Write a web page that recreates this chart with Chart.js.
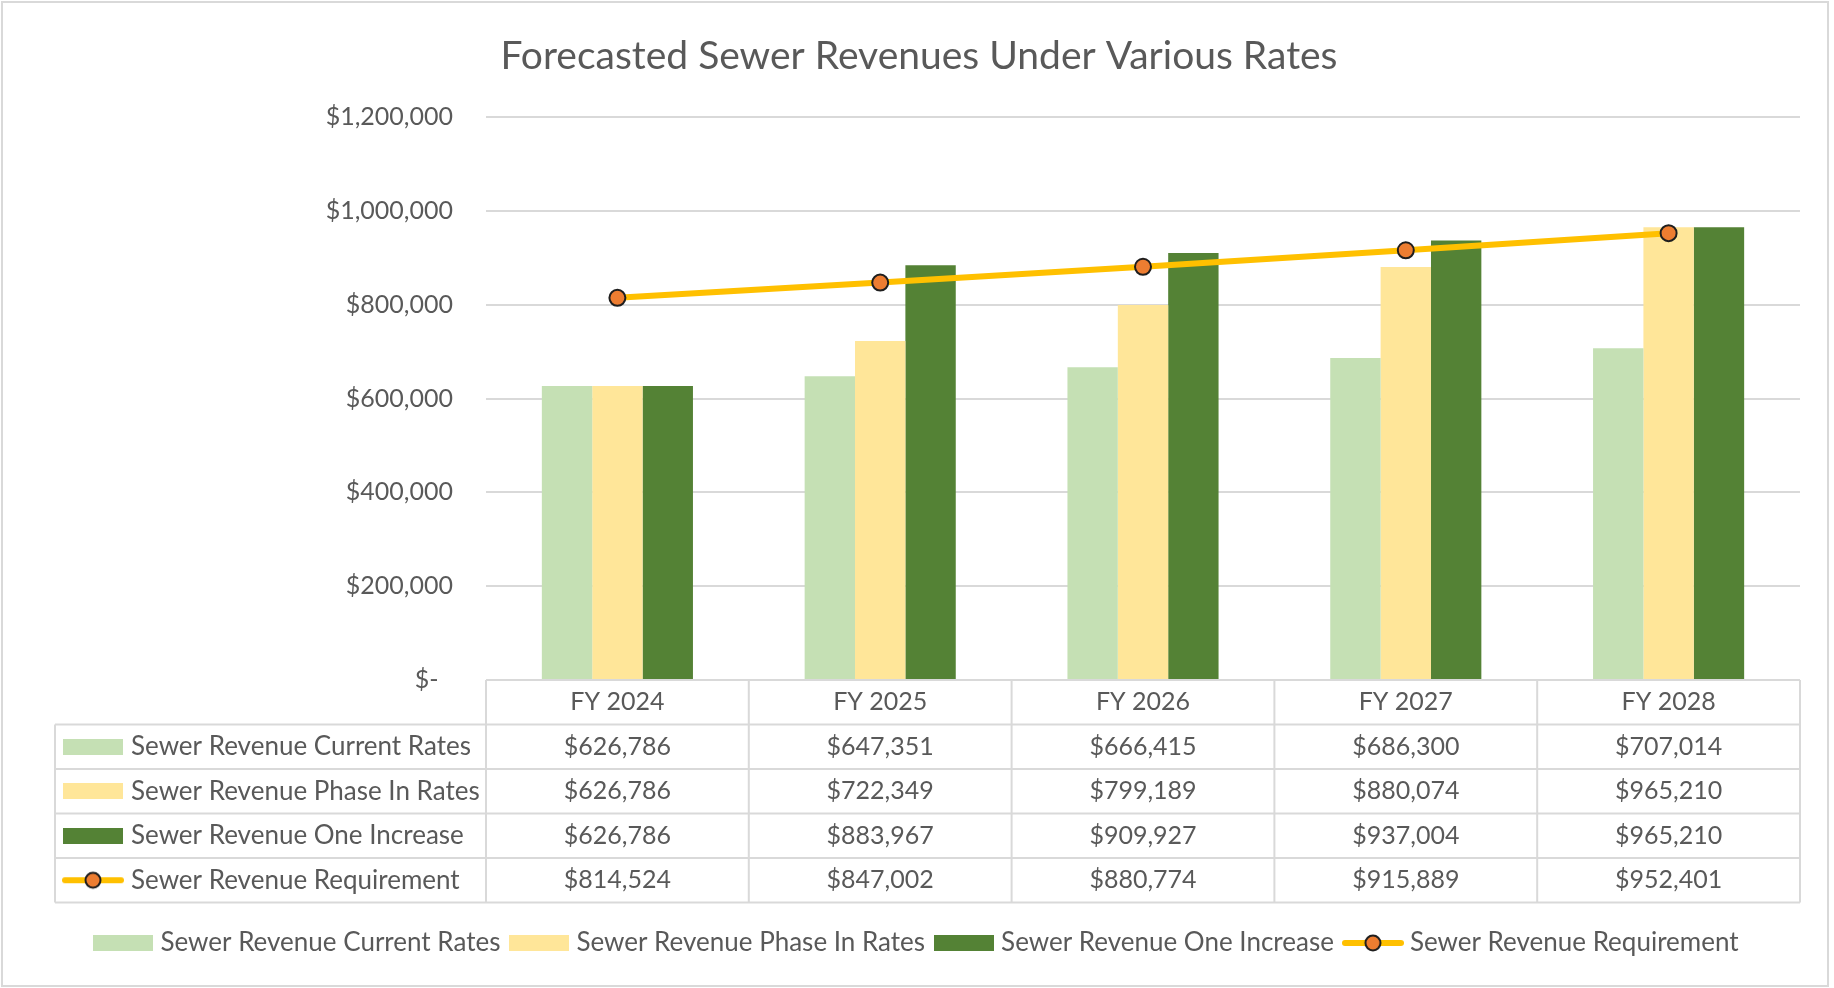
<!DOCTYPE html>
<html>
<head>
<meta charset="utf-8">
<title>Forecasted Sewer Revenues Under Various Rates</title>
<script src="https://cdn.jsdelivr.net/npm/chart.js@4.4.1/dist/chart.umd.min.js"></script>
<style>
    html, body { margin: 0; padding: 0; background: #fff; }
    canvas { display: block; }
</style>
</head>
<body>
<canvas id="revenueChart" width="1834" height="988"></canvas>
<script>
const years = ['FY 2024', 'FY 2025', 'FY 2026', 'FY 2027', 'FY 2028'];
const currentRates = [626786, 647351, 666415, 686300, 707014];
const phaseInRates = [626786, 722349, 799189, 880074, 965210];
const oneIncrease = [626786, 883967, 909927, 937004, 965210];
const requirement = [814524, 847002, 880774, 915889, 952401];
const yTicks = [0, 200000, 400000, 600000, 800000, 1000000, 1200000];

const FONT = 'Lato, "Open Sans", sans-serif';
const TEXT = '#595959';
const LINES = '#d9d9d9';

function money(v) {
    return '$' + v.toLocaleString('en-US');
}

// legend keys, drawn once and reused in the legend and the data table
function barKey(color) {
    const c = document.createElement('canvas');
    c.width = 60;
    c.height = 16;
    const g = c.getContext('2d');
    g.fillStyle = color;
    g.fillRect(0, 0, 60, 16);
    return c;
}

function lineKey() {
    const c = document.createElement('canvas');
    c.width = 62;
    c.height = 22;
    const g = c.getContext('2d');
    g.strokeStyle = '#ffc000';
    g.lineWidth = 6;
    g.lineCap = 'round';
    g.beginPath();
    g.moveTo(3, 11);
    g.lineTo(59, 11);
    g.stroke();
    g.beginPath();
    g.arc(31, 11, 7.5, 0, Math.PI * 2);
    g.fillStyle = '#ed7d31';
    g.fill();
    g.lineWidth = 2;
    g.strokeStyle = '#1e1e1e';
    g.stroke();
    return c;
}

const keys = [barKey('#c5e0b4'), barKey('#ffe699'), barKey('#548235'), lineKey()];

const frame = {
    id: 'frame',
    beforeDraw(chart) {
        const ctx = chart.ctx;
        ctx.save();
        ctx.fillStyle = '#fff';
        ctx.fillRect(0, 0, chart.width, chart.height);
        ctx.strokeStyle = LINES;
        ctx.lineWidth = 2;
        ctx.strokeRect(2, 2, 1826, 984);
        ctx.restore();
    }
};

const dataTable = {
    id: 'dataTable',
    afterDraw(chart) {
        const { ctx, chartArea } = chart;
        const x = chart.scales.x;
        const sets = chart.data.datasets;
        const colW = chartArea.width / years.length;
        const rowH = 44.5;
        const top = chartArea.bottom;
        const bottom = top + rowH * (sets.length + 1);
        const labelLeft = 55;

        ctx.save();
        ctx.strokeStyle = LINES;
        ctx.lineWidth = 2;
        ctx.beginPath();
        ctx.moveTo(chartArea.left, top);
        ctx.lineTo(chartArea.right, top);
        for (let r = 1; r <= sets.length + 1; r++) {
            ctx.moveTo(labelLeft, top + r * rowH);
            ctx.lineTo(chartArea.right, top + r * rowH);
        }
        for (let c = 0; c <= years.length; c++) {
            ctx.moveTo(chartArea.left + c * colW, top);
            ctx.lineTo(chartArea.left + c * colW, bottom);
        }
        ctx.moveTo(labelLeft, top + rowH);
        ctx.lineTo(labelLeft, bottom);
        ctx.stroke();

        ctx.fillStyle = TEXT;
        ctx.font = '25px ' + FONT;
        ctx.textBaseline = 'middle';
        ctx.textAlign = 'center';
        years.forEach((yr, i) => {
            ctx.fillText(yr, x.getPixelForValue(i), top + rowH / 2);
        });
        sets.forEach((ds, r) => {
            const cy = top + (r + 1.5) * rowH;
            ctx.font = '25px ' + FONT;
            ctx.textAlign = 'center';
            ds.data.forEach((v, i) => {
                ctx.fillText(money(v), x.getPixelForValue(i), cy);
            });
            const key = keys[r];
            ctx.drawImage(key, 93 - key.width / 2, cy - key.height / 2);
            ctx.font = '26px ' + FONT;
            ctx.textAlign = 'left';
            ctx.fillText(ds.label, 131, cy);
        });
        ctx.restore();
    }
};

const config = {
    type: 'bar',
    data: {
        labels: years,
        datasets: [
            { label: 'Sewer Revenue Current Rates', data: currentRates, backgroundColor: '#c5e0b4', order: 1 },
            { label: 'Sewer Revenue Phase In Rates', data: phaseInRates, backgroundColor: '#ffe699', order: 1 },
            { label: 'Sewer Revenue One Increase', data: oneIncrease, backgroundColor: '#548235', order: 1 },
            {
                type: 'line',
                label: 'Sewer Revenue Requirement',
                data: requirement,
                borderColor: '#ffc000',
                borderWidth: 6,
                pointRadius: 8,
                pointBackgroundColor: '#ed7d31',
                pointBorderColor: '#1e1e1e',
                pointBorderWidth: 2,
                tension: 0,
                order: 0
            }
        ]
    },
    options: {
        responsive: false,
        animation: false,
        devicePixelRatio: 1,
        categoryPercentage: 0.575,
        barPercentage: 1,
        layout: { padding: { left: 38, right: 34, top: 0, bottom: 22 } },
        plugins: {
            tooltip: { enabled: false },
            title: {
                display: true,
                text: 'Forecasted Sewer Revenues Under Various Rates',
                color: TEXT,
                font: { family: FONT, size: 39, weight: 'normal' },
                padding: { top: 33, bottom: 37.2 }
            },
            legend: {
                position: 'bottom',
                labels: {
                    color: TEXT,
                    font: { family: FONT, size: 26 },
                    usePointStyle: true,
                    pointStyleWidth: 48,
                    boxHeight: 16,
                    padding: 15,
                    generateLabels(chart) {
                        return chart.data.datasets.map((ds, i) => ({
                            text: ds.label,
                            datasetIndex: i,
                            pointStyle: keys[i],
                            fontColor: TEXT,
                            lineWidth: 0,
                            hidden: false
                        }));
                    }
                }
            }
        },
        scales: {
            x: {
                ticks: { display: false },
                grid: { display: false },
                border: { display: false },
                afterFit(scale) { scale.height = 235; }
            },
            y: {
                min: 0,
                max: 1200000,
                afterBuildTicks(scale) {
                    scale.ticks = yTicks.map(v => ({ value: v }));
                },
                ticks: {
                    padding: 33,
                    color: TEXT,
                    font: { family: FONT, size: 25 },
                    callback: v => (v === 0 ? '$-\u2007' : money(v))
                },
                grid: { color: LINES, lineWidth: 2, drawTicks: false },
                border: { display: false },
                afterFit(scale) { scale.width = 448; }
            }
        }
    },
    plugins: [frame, dataTable]
};

new Chart(document.getElementById('revenueChart'), config);
</script>
</body>
</html>
